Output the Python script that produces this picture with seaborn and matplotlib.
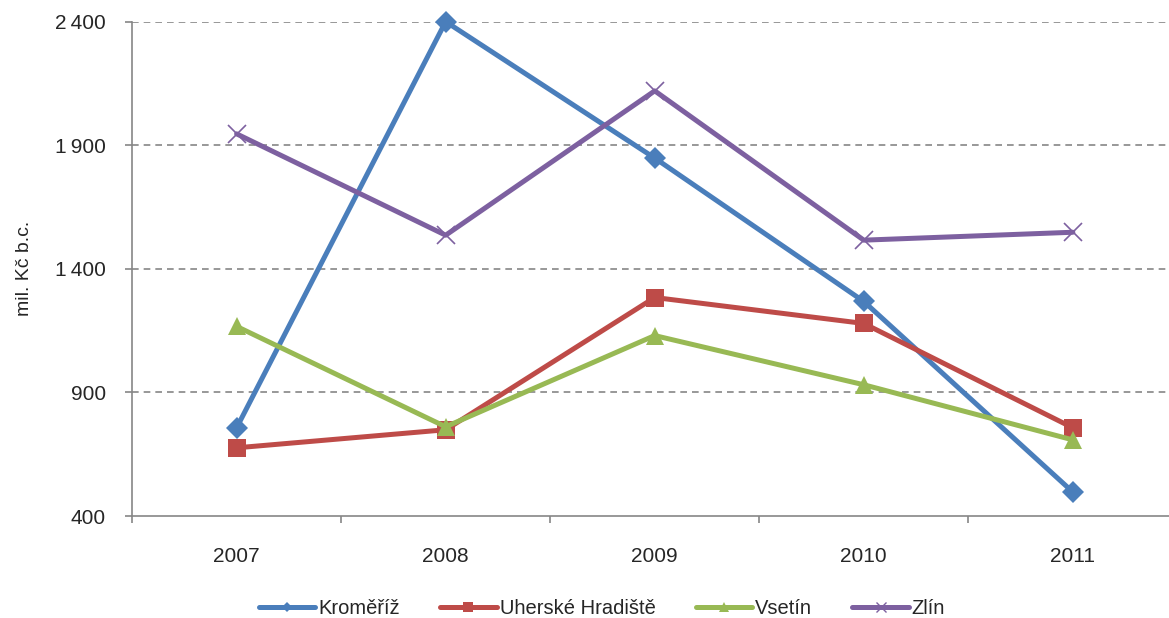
import pandas as pd
import seaborn as sns
import matplotlib.pyplot as plt
from matplotlib.lines import Line2D

# Hodnoty (mil. Kč b.c.)
years = ['2007', '2008', '2009', '2010', '2011']
kromeriz = [757, 2400, 1848, 1268, 497]
uh_hradiste = [676, 749, 1284, 1179, 757]
vsetin = [1167, 761, 1130, 931, 708]
zlin = [1946, 1536, 2120, 1516, 1548]

names = ['Kroměříž', 'Uherské Hradiště', 'Vsetín', 'Zlín']
colors = ['#4A7EBB', '#BE4B48', '#98B954', '#7D60A0']
markers = ['D', 's', '^', 'x']
msizes = [11, 13, 13, 13]

rows = []
for name, vals in zip(names, [kromeriz, uh_hradiste, vsetin, zlin]):
    for i, v in enumerate(vals):
        rows.append({'pos': i, 'okres': name, 'value': v})
df = pd.DataFrame(rows)

sns.set_style('white')
plt.rcParams['font.family'] = ['Liberation Sans', 'DejaVu Sans']

fig = plt.figure(figsize=(11.69, 6.18), dpi=100)
ax = fig.add_axes([0.113, 0.165, 0.887, 0.8])

for name, c, m, ms in zip(names, colors, markers, msizes):
    sub = df[df['okres'] == name]
    sns.lineplot(data=sub, x='pos', y='value', color=c, marker=m, markersize=ms,
                 markeredgecolor=c, markeredgewidth=1.2 if m == 'x' else 0,
                 linewidth=3.6, ax=ax, legend=False, clip_on=False, zorder=3)

ax.set_ylim(400, 2400)
ax.set_xlim(-0.5, 4.46)
ax.set_yticks([400, 900, 1400, 1900, 2400])
ax.set_yticklabels(['400', '900', '1\u2009400', '1\u2009900', '2\u2009400'], fontsize=15)
ax.set_xticks(range(len(years)))
ax.set_xticklabels(years, fontsize=15)
ax.set_xticks([-0.5, 0.5, 1.5, 2.5, 3.5], minor=True)
ax.tick_params(axis='x', which='major', length=0, pad=22, bottom=True)
ax.tick_params(axis='x', which='minor', length=5, width=1.2, color='#868686',
               direction='out', bottom=True)
ax.tick_params(axis='y', length=5, width=1.2, color='#868686', direction='out',
               left=True, pad=14)
for y in [900, 1400, 1900, 2400]:
    ax.axhline(y, color='#868686', linestyle=(0, (4, 3)), linewidth=1.2, zorder=1)

for s in ['top', 'right']:
    ax.spines[s].set_visible(False)
for s in ['left', 'bottom']:
    ax.spines[s].set_color('#868686')
    ax.spines[s].set_linewidth(1.2)

ax.set_xlabel('')
ax.set_ylabel('mil. Kč b.c.', fontsize=14, labelpad=16)

handles = [Line2D([], [], color=c, marker=m, markersize=7 if m != 'D' else 5,
                  markeredgecolor=c, markeredgewidth=1 if m == 'x' else 0,
                  linewidth=3.6) for c, m in zip(colors, markers)]
fig.legend(handles, names, loc='lower center', bbox_to_anchor=(0.515, -0.03), ncol=4,
           frameon=False, fontsize=14.5, handlelength=2.8, handletextpad=0.15,
           columnspacing=2.0)

plt.savefig('out.png', dpi=100)
